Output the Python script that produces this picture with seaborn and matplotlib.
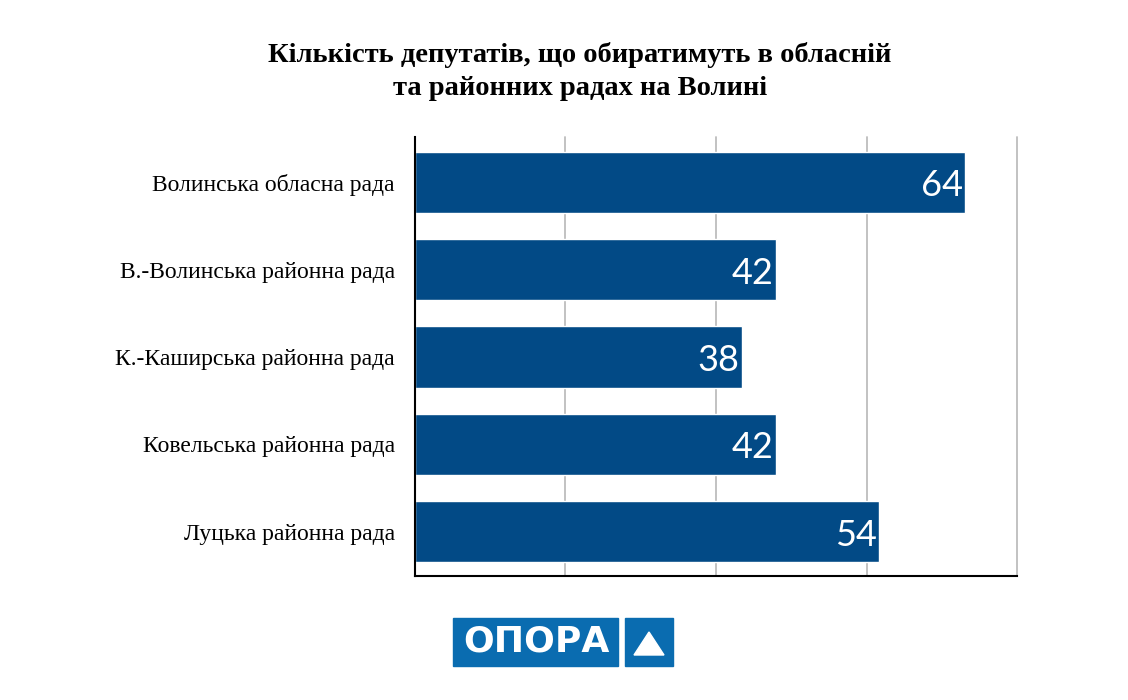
import seaborn as sns
import matplotlib.pyplot as plt
import matplotlib.patches as mpatches
import pandas as pd

categories = ['Волинська обласна рада', 'В.-Волинська районна рада',
              'К.-Каширська районна рада', 'Ковельська районна рада',
              'Луцька районна рада']
deputies = [64, 42, 38, 42, 54]

df = pd.DataFrame({'rada': categories, 'count': deputies})

sns.set_style('white')
plt.rcParams['font.family'] = ['Liberation Serif', 'DejaVu Serif']
plt.rcParams['text.color'] = 'black'
plt.rcParams['ytick.color'] = 'black'

fig = plt.figure(figsize=(11.28, 7), dpi=100)
ax = fig.add_axes([0.3679, 0.1771, 0.5337, 0.6271])

sns.barplot(data=df, x='count', y='rada', color='#024A86', saturation=1,
            width=0.7, ax=ax)

ax.set_xlim(0, 70)
ax.set_ylim(4.51, -0.52)
ax.set_xticks([17.5, 35, 52.5, 70])
ax.set_xticklabels([])
ax.tick_params(axis='x', length=0)
ax.tick_params(axis='y', length=0, pad=14.5, labelsize=17, labelcolor='black')
ax.grid(axis='x', color='#BDBDBD', linewidth=1.3)
for gl in ax.get_xgridlines():
    gl.set_clip_on(False)
ax.set_axisbelow(True)
ax.set_xlabel('')
ax.set_ylabel('')
for s in ['top', 'right']:
    ax.spines[s].set_visible(False)
for s in ['left', 'bottom']:
    ax.spines[s].set_color('black')
    ax.spines[s].set_linewidth(1.5)

for i, v in enumerate(deputies):
    ax.text(v - 0.3, i + 0.04, str(v), ha='right', va='center', color='white',
            fontsize=26, family='Lato')

fig.text(0.514, 0.898, 'Кількість депутатів, що обиратимуть в обласній\nта районних радах на Волині',
         ha='center', va='center', fontsize=20.5, fontweight='bold', linespacing=1.45,
         color='black')

# logo
blue = '#0A6CB0'
fig.patches.append(mpatches.Rectangle((453 / 1128, 1 - 666 / 700), 165 / 1128, 48 / 700,
                                      transform=fig.transFigure, color=blue))
fig.patches.append(mpatches.Rectangle((625 / 1128, 1 - 666 / 700), 48 / 1128, 48 / 700,
                                      transform=fig.transFigure, color=blue))
fig.patches.append(mpatches.Polygon([(634 / 1128, 1 - 655 / 700), (664 / 1128, 1 - 655 / 700),
                                     (649 / 1128, 1 - 632 / 700)], closed=True,
                                    transform=fig.transFigure, color='white'))
fig.text(536.5 / 1128, 1 - 641 / 700, 'ОПОРА', ha='center', va='center', color='white',
         fontsize=26, fontweight='bold', family='DejaVu Sans')

fig.savefig('out.png', dpi=100)
